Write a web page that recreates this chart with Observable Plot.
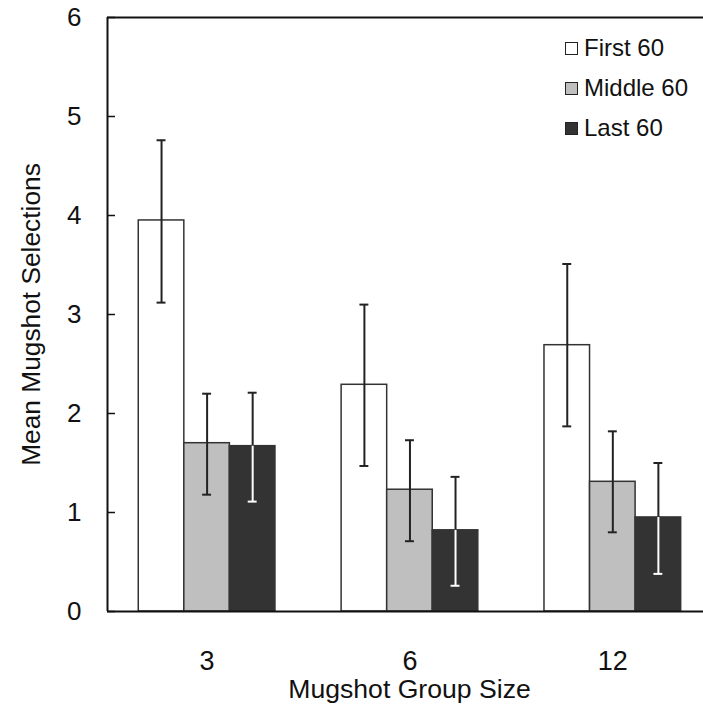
<!DOCTYPE html>
<html><head><meta charset="utf-8">
<script src="https://cdn.jsdelivr.net/npm/d3@7"></script>
<script src="https://cdn.jsdelivr.net/npm/@observablehq/plot@0.6"></script>
<style>
body{margin:0;background:#fff;font-family:"Liberation Sans",Arial,Helvetica,sans-serif;}
#wrap{position:relative;width:703px;height:719px;}
#legend{position:absolute;left:565px;top:28px;}
.item{display:flex;align-items:center;height:40px;font-size:24px;color:#111;}
.sw{width:11px;height:11px;border:1.5px solid #222;margin-right:6px;box-sizing:content-box;}
</style></head><body><div id="wrap"><div id="legend"></div></div>
<script>
const groups = ["3", "6", "12"];
const series = ["First 60", "Middle 60", "Last 60"];
const fills = ["#ffffff", "#bfbfbf", "#333333"];
const meanFirst = [3.95, 2.29, 2.69];
const meanMiddle = [1.70, 1.23, 1.31];
const meanLast = [1.67, 0.82, 0.95];
const hiFirst = [4.76, 3.10, 3.51];
const hiMiddle = [2.20, 1.73, 1.82];
const hiLast = [2.21, 1.36, 1.50];
const loFirst = [3.12, 1.47, 1.87];
const loMiddle = [1.18, 0.71, 0.80];
const loLast = [1.11, 0.26, 0.38];
const yTicks = [0, 1, 2, 3, 4, 5, 6];
const xLabel = "Mugshot Group Size";
const yLabel = "Mean Mugshot Selections";

const means = [meanFirst, meanMiddle, meanLast];
const his = [hiFirst, hiMiddle, hiLast];
const los = [loFirst, loMiddle, loLast];

const BW = 0.2246;   // bar width in group-step units
const CAP = 0.022;   // half cap width in group-step units
const xDomain = [-0.491, 2.447];

const rows = [];
series.forEach((s, si) => groups.forEach((g, gi) => rows.push({
  series: s, group: g, mean: means[si][gi], hi: his[si][gi], lo: los[si][gi],
  xc: gi + (si - 1) * BW
})));
const lastRows = rows.filter(d => d.series === "Last 60");
const otherRows = rows.filter(d => d.series !== "Last 60");

const chart = Plot.plot({
  width: 703,
  height: 719,
  marginLeft: 107,
  marginRight: 0,
  marginTop: 17,
  marginBottom: 108,
  style: {fontFamily: '"Liberation Sans", Arial, Helvetica, sans-serif', color: "#111", background: "#fff"},
  x: {type: "linear", domain: xDomain},
  y: {domain: [0, 6]},
  color: {domain: series, range: fills},
  marks: [
    Plot.rect(rows, {x1: d => d.xc - BW / 2, x2: d => d.xc + BW / 2, y1: 0, y2: "mean", fill: "series", stroke: "#333", strokeWidth: 1.5}),
    Plot.ruleX(rows, {x: "xc", y1: "mean", y2: "hi", stroke: "#222", strokeWidth: 2}),
    Plot.ruleX(otherRows, {x: "xc", y1: "lo", y2: "mean", stroke: "#222", strokeWidth: 2}),
    Plot.ruleX(lastRows, {x: "xc", y1: "lo", y2: "mean", stroke: "#fff", strokeWidth: 2}),
    Plot.ruleY(rows, {y: "hi", x1: d => d.xc - CAP, x2: d => d.xc + CAP, stroke: "#222", strokeWidth: 2}),
    Plot.ruleY(otherRows, {y: "lo", x1: d => d.xc - CAP, x2: d => d.xc + CAP, stroke: "#222", strokeWidth: 2}),
    Plot.ruleY(lastRows, {y: "lo", x1: d => d.xc - CAP, x2: d => d.xc + CAP, stroke: "#fff", strokeWidth: 2}),
    Plot.ruleY([0, 6], {stroke: "#111", strokeWidth: 2}),
    Plot.ruleX([xDomain[0]], {stroke: "#111", strokeWidth: 2}),
    Plot.axisY({ticks: yTicks, tickFormat: d3.format("d"), tickSize: -8, tickPadding: 34, fontSize: 26, strokeWidth: 1.5, label: null}),
    Plot.axisX({ticks: [0, 1, 2], tickFormat: i => groups[i], tickSize: 0, tickPadding: 39, fontSize: 27, label: null}),
    Plot.text([xLabel], {frameAnchor: "bottom", dx: 4, dy: 86, fontSize: 26.6, fill: "#111"}),
    Plot.text([yLabel], {frameAnchor: "left", textAnchor: "middle", rotate: -90, dx: -76, fontSize: 26.3, fill: "#111"})
  ]
});
const wrap = document.getElementById("wrap");
wrap.insertBefore(chart, wrap.firstChild);

const legend = document.getElementById("legend");
series.forEach((s, i) => {
  const it = document.createElement("div");
  it.className = "item";
  const sw = document.createElement("span");
  sw.className = "sw";
  sw.style.background = fills[i];
  const t = document.createElement("span");
  t.textContent = s;
  it.appendChild(sw); it.appendChild(t);
  legend.appendChild(it);
});
</script></body></html>
